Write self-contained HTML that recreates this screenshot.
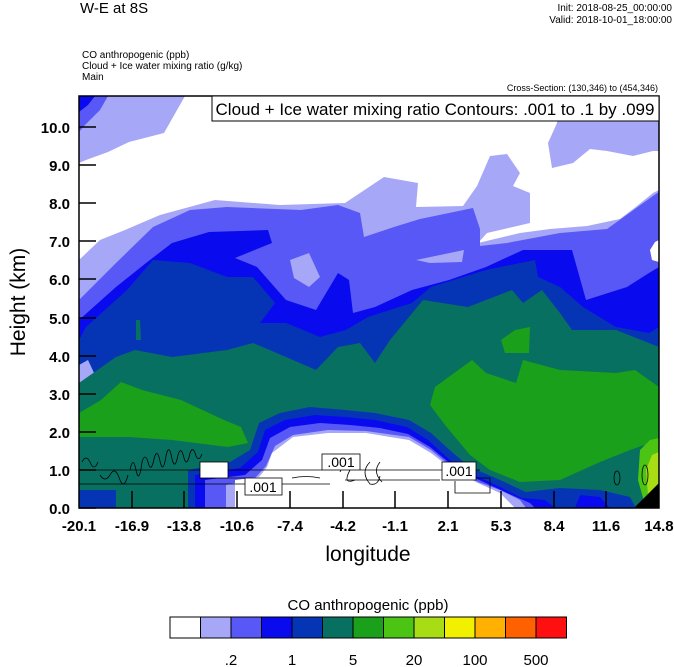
<!DOCTYPE html>
<html><head><meta charset="utf-8"><style>
body{margin:0;background:#fff;}
svg{display:block;font-family:"Liberation Sans",sans-serif;}
</style></head><body>
<svg width="674" height="667" viewBox="0 0 674 667" xmlns="http://www.w3.org/2000/svg">
<text x="80" y="13" font-size="15">W-E at 8S</text>
<text x="672" y="11" font-size="10" text-anchor="end">Init: 2018-08-25_00:00:00</text>
<text x="672" y="23" font-size="10" text-anchor="end">Valid: 2018-10-01_18:00:00</text>
<text x="82" y="58" font-size="10">CO anthropogenic   (ppb)</text>
<text x="82" y="69" font-size="10">Cloud + Ice water mixing ratio   (g/kg)</text>
<text x="82" y="80" font-size="10">Main</text>
<text x="658" y="91" font-size="9" text-anchor="end">Cross-Section: (130,346) to (454,346)</text>
<defs><clipPath id="c"><rect x="79" y="96" width="580" height="412"/></clipPath></defs>
<g clip-path="url(#c)">
<rect x="79" y="96" width="580" height="412" fill="#a7a7f7"/>
<polygon fill="#5858f6" points="79,96 108,96 100,110 85,125 79,132"/>
<polygon fill="#0a0aef" points="79,96 95,96 88,105 79,112"/>
<polygon fill="#fff" points="185,96 164,133 129,142 108,152 86,160 79,163 79,260 100,240 125,230 160,215 215,200 280,205 345,203 384,177 418,183 416,207 463,206 477,186 490,156 507,154 520,173 513,186 530,193 530,223 487,233 478,243 520,233 550,229 587,226 620,219 637,206 653,193 659,190 659,151 653,151 633,156 607,151 590,149 573,163 552,168 548,143 557,123 557,96"/>
<polygon fill="#5858f6" points="79,300 116,263 153,227 190,210 227,207 301,210 338,205 360,213 364,237 394,227 420,219 449,213 473,208 480,229 480,246 507,243 560,233 607,229 653,196 659,192 659,508 79,508"/>
<polygon fill="#a7a7f7" points="290,260 309,253 320,277 309,287 294,278"/>
<polygon fill="#a7a7f7" points="416,260 440,255 464,250 462,262 430,263"/>
<polygon fill="#fff" points="650,250 655,242 659,240 659,262 652,260"/>
<polygon fill="#0a0aef" points="79,320 116,287 146,263 172,243 209,232 268,230 272,243 235,258 257,267 286,300 316,310 338,273 349,280 353,313 375,307 412,290 449,280 486,267 523,250 572,250 586,300 627,287 649,273 659,267 659,508 79,508"/>
<polygon fill="#0535b5" points="86,327 127,290 153,260 190,263 227,277 253,277 275,303 260,323 286,323 320,337 346,330 368,317 412,303 431,287 486,270 535,260 538,277 560,287 583,307 616,327 649,333 659,327 659,508 79,508 79,340"/>
<polygon fill="#a7a7f7" points="79,365 88,360 95,375 85,392 79,390"/>
<polygon fill="#087060" points="136,320 140,320 141,340 136,340"/>
<polygon fill="#087060" points="79,383 116,357 135,350 172,357 227,350 253,343 286,357 316,370 338,347 360,343 375,363 390,340 423,300 468,307 512,290 523,303 542,290 560,313 572,330 616,330 659,347 659,508 79,508"/>
<polygon fill="#1aa01a" points="79,413 101,400 121,382 142,390 181,400 224,420 241,427 248,443 228,447 172,440 129,437 79,437"/>
<polygon fill="#1aa01a" points="435,387 472,360 486,373 516,383 523,360 560,370 616,373 635,370 659,387 659,440 630,450 600,462 560,480 520,482 490,470 470,455 445,425 430,405"/>
<polygon fill="#1aa01a" points="501,340 515,330 530,327 529,353 505,353"/>
<polygon fill="#4cc414" points="640,450 650,440 659,438 659,500 645,505 638,480"/>
<polygon fill="#a8dc14" points="646,470 652,455 659,452 659,490 648,495"/>
<polygon fill="#000" points="634,508 659,483 659,508"/>
<polygon fill="#0535b5" points="79,490 116,490 116,508 79,508"/>
<polygon fill="#0535b5" points="188,508 188,470 230,462 250,450 259,423 280,413 310,407 345,410 375,413 409,420 431,433 453,453 470,467 500,480 526,492 560,488 600,490 630,497 636,508"/>
<polygon fill="#0a0aef" points="195,508 195,475 240,468 258,452 265,430 285,420 315,415 345,417 375,420 407,427 428,440 450,460 470,473 500,487 522,498 545,500 555,508"/>
<polygon fill="#0a0aef" points="575,508 580,495 600,497 610,508"/>
<polygon fill="#5858f6" points="205,508 205,480 245,475 262,460 270,438 290,427 320,423 350,425 380,428 408,434 430,447 452,465 475,478 505,492 530,503 535,508"/>
<polygon fill="#a7a7f7" points="226,508 226,485 255,478 266,466 275,446 293,435 328,430 366,431 409,437 431,450 453,468 478,482 500,490 520,500 526,508"/>
<polygon fill="#fff" points="235,508 235,480 259,477 267,467 272,453 293,437 328,433 366,433 409,440 431,453 453,470 478,483 500,493 515,508"/>
<g fill="none" stroke="#000" stroke-width="0.8">
<path d="M79,470 L200,470 M200,478 L245,478 M228,470 L322,470 M360,470 L442,470 M476,470 L480,470 M79,484 L245,484 M282,484 L330,484 M345,480 L440,480 M476,478 L490,478 L490,493 L455,493 L455,481"/>
<path d="M82,462 q4,-8 8,0 q4,10 8,0 M100,475 q5,8 10,0 q5,-10 10,5 q4,10 8,-5 M130,470 q3,-15 6,0 q3,15 6,-8 q3,-10 6,0 q3,12 6,-3 q3,-12 6,2 q3,14 6,-5 q3,-14 6,3 q3,12 6,-4 q3,-10 6,3 q3,10 6,-5 q3,-8 6,3 q3,6 6,-2"/>
<path d="M292,478 q14,-3 28,0 M340,472 q5,-12 10,-2 q-8,15 5,10 M370,462 q-10,10 0,22 q8,2 10,-8 M380,462 q-8,10 2,20"/>
<ellipse cx="617" cy="478" rx="3" ry="7"/><ellipse cx="645" cy="475" rx="3" ry="10"/>
</g>
<g stroke="#000" stroke-width="0.8" fill="#fff">
<rect x="200" y="462" width="28" height="16"/>
<rect x="245" y="478" width="37" height="17"/>
<rect x="322" y="454" width="38" height="16"/>
<rect x="442" y="462" width="34" height="18"/>
</g>
<g font-size="14" text-anchor="middle">
<text x="263" y="492">.001</text><text x="341" y="467">.001</text><text x="459" y="476">.001</text>
</g>
</g>
<rect x="79" y="96" width="580" height="412" fill="none" stroke="#000" stroke-width="1.5"/>
<rect x="212" y="96" width="447" height="25" fill="#fff" stroke="#000" stroke-width="1"/>
<text x="435" y="115" font-size="17" text-anchor="middle">Cloud + Ice water mixing ratio Contours: .001 to .1 by .099</text>
<g stroke="#000" stroke-width="1.5">
<path d="M79,508h17M79,470h17M79,432h17M79,394h17M79,356h17M79,318h17M79,279h17M79,241h17M79,203h17M79,165h17M79,127h17"/>
<path d="M132,508v-17M184,508v-17M237,508v-17M290,508v-17M343,508v-17M395,508v-17M448,508v-17M501,508v-17M554,508v-17M606,508v-17"/>
</g>
<g font-size="15" text-anchor="end" font-weight="bold">
<text x="70" y="514">0.0</text><text x="70" y="476">1.0</text><text x="70" y="438">2.0</text><text x="70" y="400">3.0</text><text x="70" y="362">4.0</text><text x="70" y="324">5.0</text><text x="70" y="285">6.0</text><text x="70" y="247">7.0</text><text x="70" y="209">8.0</text><text x="70" y="171">9.0</text><text x="70" y="133">10.0</text>
</g>
<g font-size="15" text-anchor="middle" font-weight="bold">
<text x="79" y="531">-20.1</text><text x="132" y="531">-16.9</text><text x="184" y="531">-13.8</text><text x="237" y="531">-10.6</text><text x="290" y="531">-7.4</text><text x="343" y="531">-4.2</text><text x="395" y="531">-1.1</text><text x="448" y="531">2.1</text><text x="501" y="531">5.3</text><text x="554" y="531">8.4</text><text x="606" y="531">11.6</text><text x="659" y="531">14.8</text>
</g>
<text x="368" y="561" font-size="21" text-anchor="middle">longitude</text>
<text transform="translate(25,302) rotate(-90)" font-size="21" text-anchor="middle">Height (km)</text>
<text x="368" y="610" font-size="15" text-anchor="middle">CO anthropogenic  (ppb)</text>
<g stroke="#000" stroke-width="1">
<rect x="170" y="617" width="30.5" height="21" fill="#fff"/>
<rect x="200.5" y="617" width="30.5" height="21" fill="#a7a7f7"/>
<rect x="231" y="617" width="30.5" height="21" fill="#5858f6"/>
<rect x="261.5" y="617" width="30.5" height="21" fill="#0a0aef"/>
<rect x="292" y="617" width="30.5" height="21" fill="#0535b5"/>
<rect x="322.5" y="617" width="30.5" height="21" fill="#087060"/>
<rect x="353" y="617" width="30.5" height="21" fill="#1aa01a"/>
<rect x="383.5" y="617" width="30.5" height="21" fill="#4cc414"/>
<rect x="414" y="617" width="30.5" height="21" fill="#a8dc14"/>
<rect x="444.5" y="617" width="30.5" height="21" fill="#f0f000"/>
<rect x="475" y="617" width="30.5" height="21" fill="#ffb000"/>
<rect x="505.5" y="617" width="30.5" height="21" fill="#ff6000"/>
<rect x="536" y="617" width="30.5" height="21" fill="#ff1010"/>
</g>
<g font-size="15" text-anchor="middle">
<text x="231" y="665">.2</text><text x="292" y="665">1</text><text x="353" y="665">5</text><text x="414" y="665">20</text><text x="475" y="665">100</text><text x="536" y="665">500</text>
</g>
</svg>
</body></html>
